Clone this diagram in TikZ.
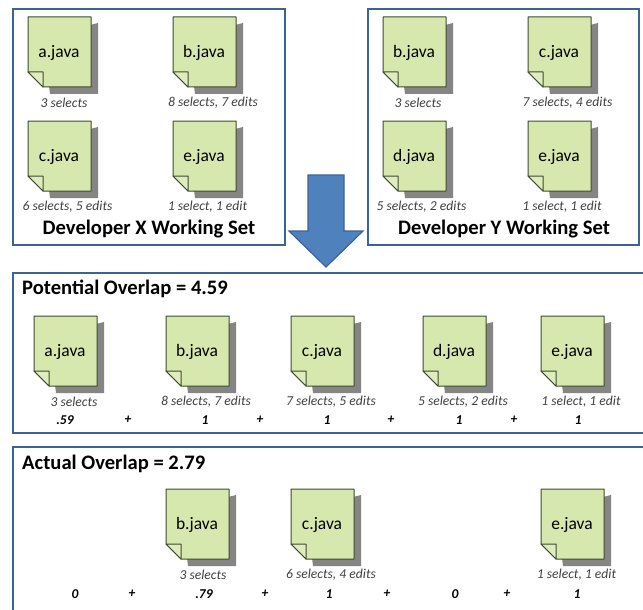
\documentclass[tikz,border=0pt]{standalone}
\usepackage{fontspec}
\setmainfont{Carlito}
\definecolor{panelblue}{HTML}{3A6396}
\definecolor{arrowfill}{HTML}{4F81BD}
\definecolor{arrowline}{HTML}{3A6396}
\definecolor{notefill}{HTML}{D7E8AE}
\definecolor{noteline}{HTML}{3F4A30}
\definecolor{noteshadow}{HTML}{858585}
\definecolor{captext}{HTML}{404040}
\tikzset{
  panel/.style={draw=panelblue,line width=2pt},
  notebody/.style={fill=notefill,draw=noteline,line width=1pt,line join=round},
  notefold/.style={fill=notefill!80!white,draw=noteline,line width=1pt,line join=round},
  notelabel/.style={font=\fontsize{17.5}{20}\selectfont,inner sep=0pt,text=black},
  notecap/.style={font=\fontsize{13.6}{15}\selectfont\itshape,text=captext,inner sep=0pt},
  sumterm/.style={font=\fontsize{13.5}{15}\selectfont\bfseries\itshape,inner sep=0pt},
  paneltitle/.style={font=\fontsize{20.6}{24}\selectfont\bfseries,inner sep=0pt},
  overlaptitle/.style={font=\fontsize{20.6}{24}\selectfont\bfseries,inner sep=0pt,anchor=west},
}
% name, left, top, label, caption, caption centre x
\newcommand{\docnote}[6]{%
  \fill[noteshadow] (#2+15,#3+20) -- (#2+70,#3+6) -- (#2+70,#3+77) -- (#2+22,#3+77) -- cycle;
  \draw[notebody] (#2,#3) -- (#2+63,#3) -- (#2+63,#3+70) -- (#2+15,#3+70) -- (#2,#3+55) -- cycle;
  \draw[notefold] (#2,#3+55) -- (#2+15,#3+55) -- (#2+15,#3+70) -- cycle;
  \node[notelabel] (#1) at (#2+31,#3+36) {#4};
  \node[notecap] (#1cap) at (#6,#3+85.5) {#5};
}
\begin{document}
\begin{tikzpicture}[x=1pt,y=-1pt]
\useasboundingbox (0,0) rectangle (643,610);
\fill[white] (0,0) rectangle (643,610);
% panels
\draw[panel] (13,9) rectangle (285,245);
\draw[panel] (368,9) rectangle (639,245);
\draw[panel] (645,273) -- (13,273) -- (13,433) -- (645,433);
\draw[panel] (13,612) -- (13,447) -- (645,447);
% developer X
\docnote{xa}{28}{17}{a.java}{3 selects}{64}
\docnote{xb}{173}{17}{b.java}{8 selects, 7 edits}{213}
\docnote{xc}{28}{121}{c.java}{6 selects, 5 edits}{67.5}
\docnote{xe}{173}{121}{e.java}{1 select, 1 edit}{207.5}
\node[paneltitle] (xt) at (149,229) {Developer X Working Set};
% developer Y
\docnote{ya}{383}{17}{b.java}{3 selects}{418}
\docnote{yb}{528}{17}{c.java}{7 selects, 4 edits}{567.5}
\docnote{yc}{383}{121}{d.java}{5 selects, 2 edits}{421.5}
\docnote{ye}{528}{121}{e.java}{1 select, 1 edit}{562}
\node[paneltitle] (yt) at (504,229) {Developer Y Working Set};
% arrow
\draw[fill=arrowfill,draw=arrowline,line width=1.2pt,line join=miter]
  (308,175) -- (344,175) -- (344,231) -- (363,231) -- (326,267) -- (289,231) -- (308,231) -- cycle;
% potential
\node[overlaptitle] (pt) at (22,289) {Potential Overlap = 4.59};
\docnote{pa}{34}{316}{a.java}{3 selects}{74}
\docnote{pb}{166}{316}{b.java}{8 selects, 7 edits}{206}
\docnote{pc}{291}{316}{c.java}{7 selects, 5 edits}{331}
\docnote{pd}{423}{316}{d.java}{5 selects, 2 edits}{463}
\docnote{pe}{541}{316}{e.java}{1 select, 1 edit}{581}
\node[sumterm] (p1) at (65,420) {.59};
\node[sumterm] (p2) at (128,420) {+};
\node[sumterm] (p3) at (205,420) {1};
\node[sumterm] (p4) at (260,420) {+};
\node[sumterm] (p5) at (327,420) {1};
\node[sumterm] (p6) at (391,420) {+};
\node[sumterm] (p7) at (459,420) {1};
\node[sumterm] (p8) at (514,420) {+};
\node[sumterm] (p9) at (578,420) {1};
% actual
\node[overlaptitle] (at) at (22,464) {Actual Overlap = 2.79};
\docnote{ab}{166}{489}{b.java}{3 selects}{203}
\docnote{ac}{291}{489}{c.java}{6 selects, 4 edits}{331}
\docnote{ae}{541}{489}{e.java}{1 select, 1 edit}{576.5}
\node[sumterm] (a1) at (75,594) {0};
\node[sumterm] (a2) at (132,594) {+};
\node[sumterm] (a3) at (204,594) {.79};
\node[sumterm] (a4) at (265,594) {+};
\node[sumterm] (a5) at (329,594) {1};
\node[sumterm] (a6) at (387,594) {+};
\node[sumterm] (a7) at (455,594) {0};
\node[sumterm] (a8) at (507,594) {+};
\node[sumterm] (a9) at (577,594) {1};
\end{tikzpicture}
\end{document}
